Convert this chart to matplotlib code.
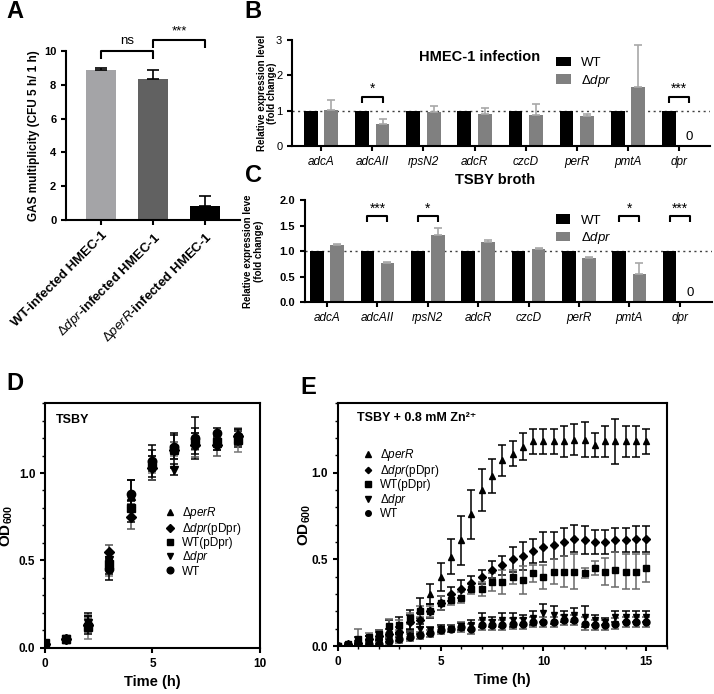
import numpy as np
import matplotlib
matplotlib.use("Agg")
import matplotlib.pyplot as plt
from matplotlib.ticker import MultipleLocator

plt.rcParams['font.family'] = ['Liberation Sans', 'DejaVu Sans']
plt.rcParams['mathtext.fontset'] = 'custom'
plt.rcParams['mathtext.rm'] = 'Liberation Sans'
plt.rcParams['mathtext.it'] = 'Liberation Sans:italic'
plt.rcParams['mathtext.bf'] = 'Liberation Sans:bold'
plt.rcParams['axes.linewidth'] = 1.5
plt.rcParams['xtick.major.width'] = 1.5
plt.rcParams['ytick.major.width'] = 1.5
plt.rcParams['xtick.major.size'] = 3.5
plt.rcParams['ytick.major.size'] = 3.5

# ---- panel A
strains_a = ["WT-infected HMEC-1",
             r"$\mathit{Δdpr}$-infected HMEC-1",
             r"$\mathit{ΔperR}$-infected HMEC-1"]
mult_a = [8.85, 8.35, 0.8]
mult_err_a = [0.15, 0.55, 0.6]

# ---- panels B, C
genes = ["adcA", "adcAII", "rpsN2", "adcR", "czcD", "perR", "pmtA", "dpr"]
wt_b = [1.0, 1.0, 1.0, 1.0, 1.0, 1.0, 1.0, 1.0]
dpr_b = [1.03, 0.63, 0.96, 0.92, 0.88, 0.84, 1.68, 0.0]
dpr_b_err = [0.28, 0.13, 0.17, 0.17, 0.30, 0.06, 1.17, 0.0]
sig_b = {1: "*", 7: "***"}

wt_c = [1.0, 1.0, 1.0, 1.0, 1.0, 1.0, 1.0, 1.0]
dpr_c = [1.12, 0.77, 1.32, 1.18, 1.03, 0.86, 0.55, 0.0]
dpr_c_err = [0.02, 0.01, 0.14, 0.03, 0.02, 0.02, 0.22, 0.0]
sig_c = {1: "***", 2: "*", 6: "*", 7: "***"}

# ---- panel D (TSBY)
t_d = [0, 1, 2, 3, 4, 5, 6, 7, 8, 9]
perR_d = [0.02, 0.05, 0.15, 0.47, 0.87, 1.06, 1.13, 1.20, 1.17, 1.20]
perR_d_err = [0.01, 0.01, 0.05, 0.05, 0.09, 0.10, 0.10, 0.12, 0.04, 0.05]
dprp_d = [0.02, 0.05, 0.13, 0.55, 0.75, 1.03, 1.13, 1.16, 1.16, 1.21]
dprp_d_err = [0.01, 0.01, 0.04, 0.04, 0.07, 0.07, 0.05, 0.07, 0.06, 0.04]
wtp_d = [0.03, 0.05, 0.12, 0.48, 0.80, 1.05, 1.14, 1.18, 1.18, 1.19]
wtp_d_err = [0.01, 0.01, 0.07, 0.07, 0.06, 0.05, 0.04, 0.05, 0.05, 0.07]
dpr_d = [0.02, 0.05, 0.14, 0.50, 0.78, 1.04, 1.02, 1.17, 1.18, 1.20]
dpr_d_err = [0.01, 0.01, 0.04, 0.05, 0.06, 0.06, 0.03, 0.06, 0.05, 0.04]
wt_d = [0.02, 0.05, 0.13, 0.45, 0.88, 1.07, 1.15, 1.20, 1.23, 1.21]
wt_d_err = [0.01, 0.01, 0.05, 0.06, 0.08, 0.06, 0.07, 0.06, 0.03, 0.04]

# ---- panel E (TSBY + 0.8 mM Zn2+)
t_e = [0, 0.5, 1, 1.5, 2, 2.5, 3, 3.5, 4, 4.5, 5, 5.5, 6, 6.5, 7, 7.5,
       8, 8.5, 9, 9.5, 10, 10.5, 11, 11.5, 12, 12.5, 13, 13.5, 14, 14.5, 15]
perR_e = [0, 0.01, 0.03, 0.04, 0.06, 0.10, 0.12, 0.15, 0.22, 0.30, 0.40, 0.515,
          0.61, 0.76, 0.90, 0.98, 1.07, 1.11, 1.15, 1.18, 1.18, 1.18, 1.18, 1.19,
          1.19, 1.16, 1.18, 1.18, 1.18, 1.18, 1.18]
perR_e_err = [0.005, 0.01, 0.02, 0.02, 0.03, 0.05, 0.05, 0.06, 0.06, 0.06, 0.08, 0.10,
              0.14, 0.14, 0.12, 0.10, 0.09, 0.07, 0.08, 0.07, 0.07, 0.07, 0.09, 0.09,
              0.10, 0.07, 0.09, 0.13, 0.09, 0.09, 0.07]
dprp_e = [0, 0.01, 0.02, 0.04, 0.06, 0.07, 0.08, 0.14, 0.15, 0.20, 0.25, 0.30,
          0.33, 0.365, 0.40, 0.44, 0.465, 0.50, 0.52, 0.55, 0.57, 0.58, 0.60, 0.62,
          0.61, 0.60, 0.60, 0.61, 0.61, 0.62, 0.62]
dprp_e_err = [0.005, 0.01, 0.01, 0.02, 0.02, 0.03, 0.03, 0.04, 0.04, 0.04, 0.04, 0.04,
              0.05, 0.04, 0.04, 0.05, 0.055, 0.07, 0.08, 0.07, 0.085, 0.08, 0.08, 0.08,
              0.08, 0.07, 0.07, 0.07, 0.07, 0.075, 0.075]
wtp_e = [0, 0.01, 0.04, 0.054, 0.07, 0.115, 0.12, 0.16, 0.20, 0.20, 0.246, 0.265,
         0.28, 0.33, 0.33, 0.37, 0.37, 0.40, 0.38, 0.42, 0.40, 0.43, 0.43, 0.43,
         0.42, 0.45, 0.43, 0.44, 0.43, 0.43, 0.45]
wtp_e_err = [0.005, 0.01, 0.06, 0.02, 0.02, 0.04, 0.03, 0.03, 0.03, 0.03, 0.04, 0.03,
             0.03, 0.03, 0.04, 0.05, 0.07, 0.04, 0.08, 0.05, 0.07, 0.07, 0.09, 0.10,
             0.03, 0.04, 0.08, 0.10, 0.10, 0.10, 0.08]
dpr_e = [0, 0.005, 0.01, 0.02, 0.025, 0.045, 0.05, 0.06, 0.10, 0.09, 0.10, 0.10,
         0.115, 0.12, 0.15, 0.14, 0.15, 0.15, 0.15, 0.16, 0.19, 0.18, 0.17, 0.18,
         0.17, 0.15, 0.14, 0.17, 0.17, 0.17, 0.17]
dpr_e_err = [0.005, 0.005, 0.01, 0.01, 0.01, 0.02, 0.02, 0.02, 0.03, 0.02, 0.02, 0.02,
             0.02, 0.03, 0.04, 0.03, 0.04, 0.04, 0.03, 0.04, 0.05, 0.05, 0.03, 0.04,
             0.06, 0.03, 0.02, 0.03, 0.03, 0.03, 0.03]
wt_e = [0, 0.005, 0.01, 0.01, 0.015, 0.03, 0.04, 0.05, 0.063, 0.073, 0.092, 0.10,
        0.11, 0.10, 0.12, 0.12, 0.12, 0.13, 0.13, 0.14, 0.14, 0.14, 0.15, 0.15,
        0.13, 0.12, 0.12, 0.13, 0.14, 0.14, 0.14]
wt_e_err = [0.005, 0.005, 0.01, 0.01, 0.01, 0.02, 0.02, 0.02, 0.02, 0.02, 0.02, 0.02,
            0.03, 0.03, 0.03, 0.03, 0.03, 0.03, 0.03, 0.03, 0.03, 0.03, 0.03, 0.03,
            0.04, 0.03, 0.03, 0.03, 0.03, 0.03, 0.03]

labels_growth = [r"$\mathrm{Δ}\mathit{perR}$", r"$\mathrm{Δ}\mathit{dpr}$(pDpr)",
                 "WT(pDpr)", r"$\mathrm{Δ}\mathit{dpr}$", "WT"]
markers = ["^", "D", "s", "v", "o"]


def bold_ticks(ax, size=8):
    for lab in ax.get_xticklabels() + ax.get_yticklabels():
        lab.set_fontweight("bold")
        lab.set_fontsize(size)


def bracket(ax, x1, x2, ytop, ylow, text, ytext, fs=9, lw=1.5):
    ax.plot([x1, x1, x2, x2], [ylow, ytop, ytop, ylow], color="black", lw=lw,
            clip_on=False, solid_capstyle="butt")
    ax.text((x1 + x2) / 2, ytext, text, ha="center", va="center", fontsize=fs)


def expression_panel(ax, wt, dpr, err, sig, ymax, ystep, title, title_pos, ylabel,
                     br_top, br_low, txt_y, zero_y, bold_y, leg_anchor, xlim):
    x = np.arange(len(genes))
    w = 0.27
    ax.bar(x - 0.2, wt, w, color="black", zorder=2, label="WT")
    ax.bar(x + 0.2, dpr, w, color="#808080", zorder=2, label=r"$\mathrm{Δ}\mathit{dpr}$",
           yerr=[np.zeros(len(err)), err], capsize=3,
           error_kw=dict(ecolor="#a8a8a8", elinewidth=1.2, capthick=1.2))
    ax.axhline(1.0, color="#404040", ls=(0, (1.5, 2.5)), lw=1.0, zorder=1)
    ax.set_xlim(*xlim)
    ax.set_ylim(0, ymax)
    ax.yaxis.set_major_locator(MultipleLocator(ystep))
    ax.set_xticks(x)
    ax.set_xticklabels(genes, fontstyle="italic", fontsize=8.5)
    ax.spines["top"].set_visible(False)
    ax.spines["right"].set_visible(False)
    if ystep < 1:
        ax.yaxis.set_major_formatter(plt.FormatStrFormatter("%.1f"))
    for lab in ax.get_yticklabels():
        lab.set_fontsize(8)
        if bold_y:
            lab.set_fontweight("bold")
    ax.text(title_pos[0], title_pos[1], title, transform=ax.transAxes,
            fontsize=10.5, fontweight="bold", ha="center", va="center")
    ax.set_ylabel(ylabel, fontsize=7, fontweight="bold", linespacing=1.1)
    for i, s in sig.items():
        bracket(ax, i - 0.2, i + 0.2, br_top, br_low, s, txt_y, fs=10)
    ax.text(7 + 0.2, zero_y, "0", ha="center", va="bottom", fontsize=9.5)
    ax.legend(loc="upper left", bbox_to_anchor=leg_anchor, frameon=False,
              fontsize=9.5, handlelength=1.1, handleheight=0.7, handletextpad=0.8,
              labelspacing=0.25, borderpad=0, borderaxespad=0)


def growth_panel(ax, t, series, errs, ecolors, xmax, ms, leg_anchor):
    for y, e, m, ec in zip(series, errs, markers, ecolors):
        ax.errorbar(t, y, yerr=e, fmt="none", ecolor=ec, elinewidth=1.1,
                    capsize=3, capthick=1.1, zorder=2)
    for y, m, lab in zip(series, markers, labels_growth):
        msz = ms * 0.8 if m == "D" else ms
        ax.plot(t, y, ls="none", marker=m, color="black", markersize=msz,
                label=lab, zorder=3)
    ax.set_xlim(0, xmax)
    ax.set_ylim(0, 1.4)
    ax.xaxis.set_major_locator(MultipleLocator(5))
    ax.yaxis.set_major_locator(MultipleLocator(0.5))
    ax.yaxis.set_minor_locator(MultipleLocator(0.1))
    ax.yaxis.set_major_formatter(plt.FormatStrFormatter("%.1f"))
    ax.tick_params(which="minor", length=2.5, width=1.0)
    ax.set_xlabel("Time (h)", fontsize=10.5, fontweight="bold")
    ax.set_ylabel(r"OD$_{\mathbf{600}}$", fontsize=11, fontweight="bold")
    bold_ticks(ax, 8.5)
    leg = ax.legend(loc="upper left", bbox_to_anchor=leg_anchor, frameon=False,
                    fontsize=8.5, handlelength=1.0, handletextpad=0.5,
                    labelspacing=0.02, borderpad=0, borderaxespad=0,
                    markerscale=0.8)
    return leg


fig = plt.figure(figsize=(7.14, 6.94), dpi=100)

# ---------- A
axA = fig.add_axes([0.0924, 0.683, 0.2437, 0.2435])
xa = np.arange(len(strains_a))
axA.bar(xa, mult_a, 0.58, color=["#a4a4a7", "#616161", "#000000"],
        yerr=[np.zeros(3), mult_err_a], capsize=4,
        error_kw=dict(ecolor="black", elinewidth=1.2, capthick=1.2))
axA.set_xlim(-0.67, 2.67)
axA.set_ylim(0, 10)
axA.yaxis.set_major_locator(MultipleLocator(2))
axA.set_xticks(xa)
axA.set_xticklabels(strains_a, rotation=45, ha="right", rotation_mode="anchor")
axA.spines["top"].set_visible(False)
axA.spines["right"].set_visible(False)
bold_ticks(axA, 8)
for lab in axA.get_xticklabels():
    lab.set_fontsize(9.5)
axA.set_ylabel("GAS multiplicity (CFU 5 h/ 1 h)", fontsize=8.5, fontweight="bold")
axA.yaxis.set_label_coords(-0.15, 0.5)
bracket(axA, 0, 1, 10.0, 9.5, "ns", 10.6, fs=9.5)
bracket(axA, 1, 2, 10.65, 10.2, "***", 11.15, fs=9.5)

# ---------- B
axB = fig.add_axes([0.409, 0.7896, 0.585, 0.1527])
expression_panel(axB, wt_b, dpr_b, dpr_b_err, sig_b, 3, 1, "HMEC-1 infection",
                 (0.45, 0.84), "Relative expression level\n(fold change)",
                 1.39, 1.22, 1.62, 0.08, False, (0.632, 0.84), (-0.57, 7.6))
axB.yaxis.set_label_coords(-0.035, 0.5)

# ---------- C
axC = fig.add_axes([0.427, 0.5648, 0.570, 0.147])
expression_panel(axC, wt_c, dpr_c, dpr_c_err, sig_c, 2.0, 0.5, "TSBY broth",
                 (0.467, 1.2), "Relative expression leve\n(fold change)",
                 1.69, 1.56, 1.83, 0.05, True, (0.617, 0.86), (-0.44, 7.64))
axC.yaxis.set_label_coords(-0.1, 0.5)

# ---------- D
axD = fig.add_axes([0.063, 0.0663, 0.301, 0.353])
growth_panel(axD, t_d, [perR_d, dprp_d, wtp_d, dpr_d, wt_d],
             [perR_d_err, dprp_d_err, wtp_d_err, dpr_d_err, wt_d_err],
             ["black", "#555555", "#777777", "black", "black"], 10, 6, (0.555, 0.585))
axD.text(0.05, 0.93, "TSBY", transform=axD.transAxes, fontsize=9,
         fontweight="bold", va="center")
axD.yaxis.set_label_coords(-0.14, 0.5)

# ---------- E
axE = fig.add_axes([0.473, 0.069, 0.461, 0.350])
growth_panel(axE, t_e, [perR_e, dprp_e, wtp_e, dpr_e, wt_e],
             [perR_e_err, dprp_e_err, wtp_e_err, dpr_e_err, wt_e_err],
             ["black", "black", "#6a6a6a", "black", "#555555"], 16, 5, (0.074, 0.82))
axE.xaxis.set_minor_locator(MultipleLocator(1))
axE.text(0.058, 0.94, "TSBY + 0.8 mM Zn²⁺", transform=axE.transAxes,
         fontsize=9, fontweight="bold", va="center")
axE.yaxis.set_label_coords(-0.075, 0.5)

# panel letters
for letter, (px, py) in zip("ABCDE", [(15, 12), (253, 12), (253, 176), (15, 383), (308, 387)]):
    fig.text(px / 714, 1 - py / 694, letter, fontsize=17, fontweight="bold",
             ha="center", va="center")

fig.savefig("out.png", dpi=100)
